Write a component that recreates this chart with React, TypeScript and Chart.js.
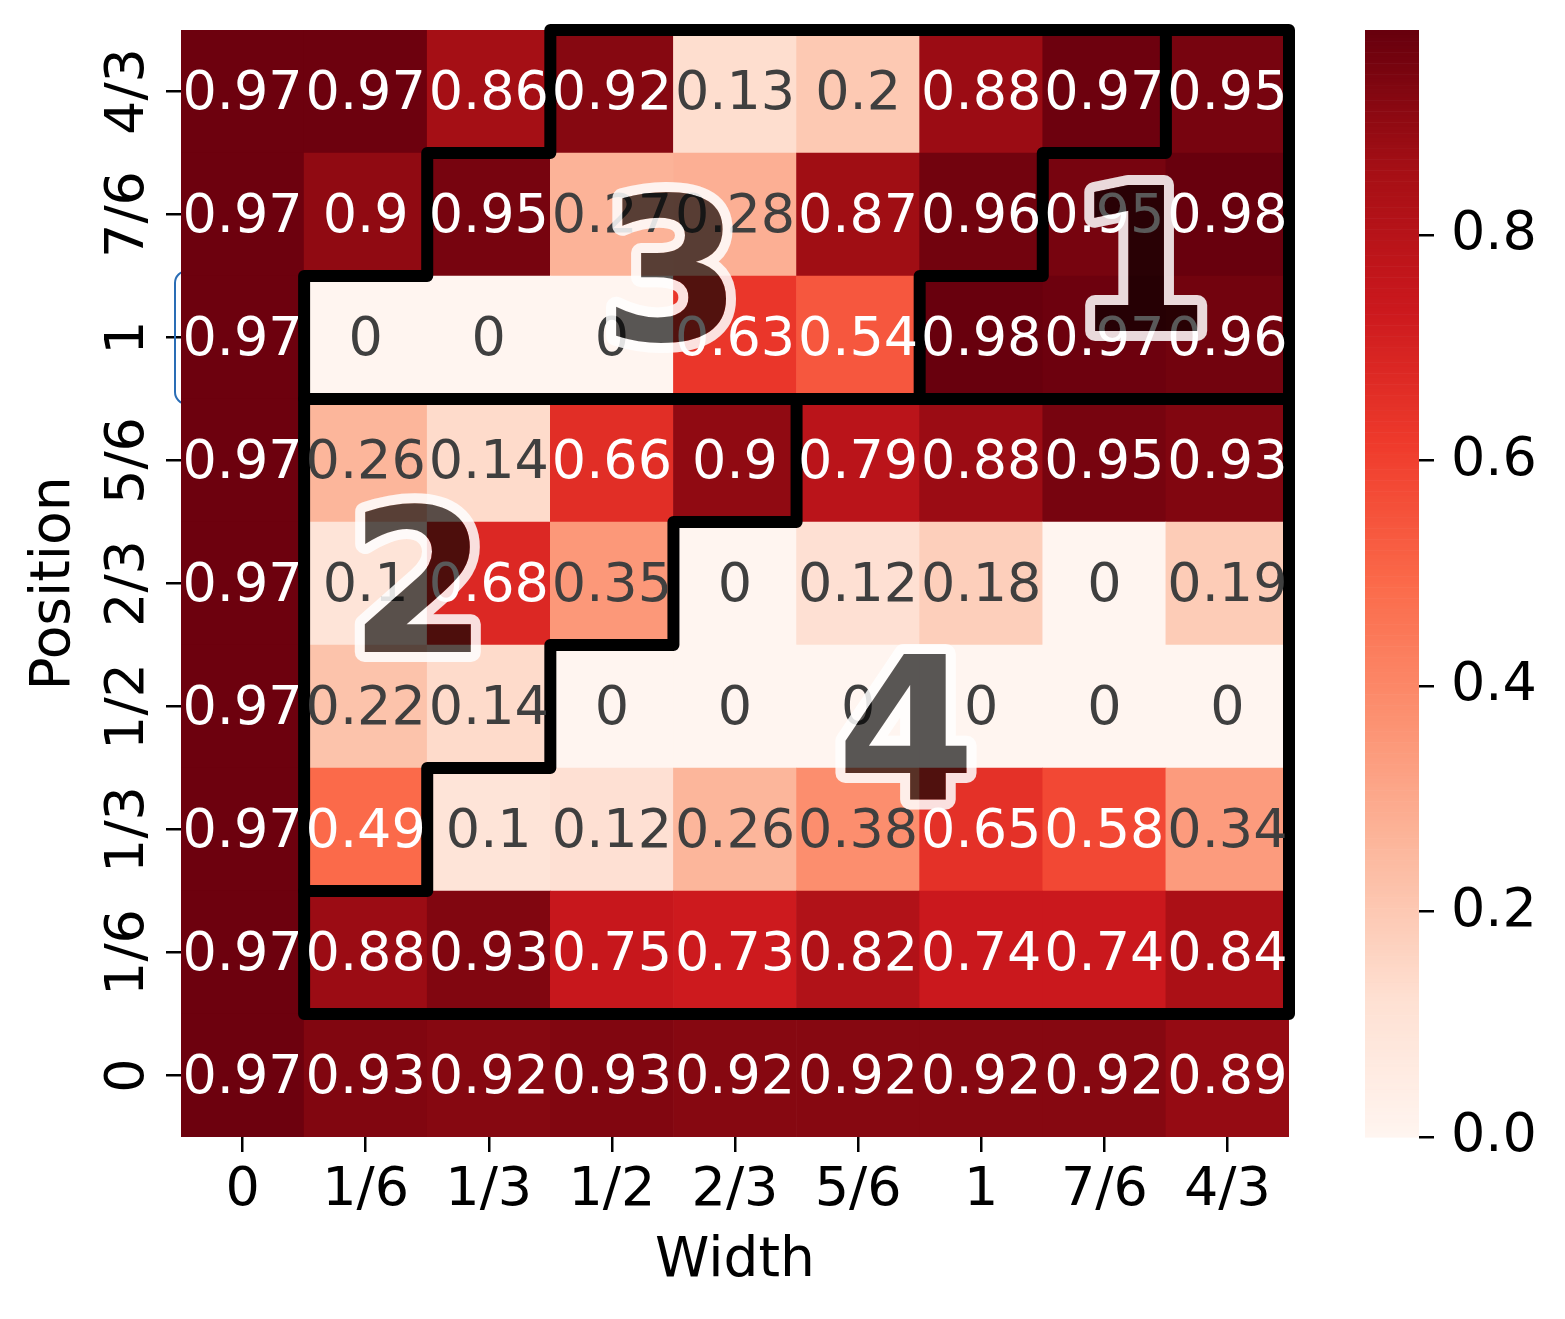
import React, { useEffect, useRef } from "react";
import { Chart, registerables } from "chart.js";
Chart.register(...registerables);

const FONT = "DejaVu Sans";
const FS = 54;
const TITLE_FS = 55;

// axis labels
const xLabels = ["0", "1/6", "1/3", "1/2", "2/3", "5/6", "1", "7/6", "4/3"];
const yLabels = ["0", "1/6", "1/3", "1/2", "2/3", "5/6", "1", "7/6", "4/3"]; // bottom -> top

// heatmap values, one array per Position row (bottom -> top), columns follow xLabels
const row0 = [0.97, 0.93, 0.92, 0.93, 0.92, 0.92, 0.92, 0.92, 0.89];
const row1_6 = [0.97, 0.88, 0.93, 0.75, 0.73, 0.82, 0.74, 0.74, 0.84];
const row1_3 = [0.97, 0.49, 0.1, 0.12, 0.26, 0.38, 0.65, 0.58, 0.34];
const row1_2 = [0.97, 0.22, 0.14, 0, 0, 0, 0, 0, 0];
const row2_3 = [0.97, 0.1, 0.68, 0.35, 0, 0.12, 0.18, 0, 0.19];
const row5_6 = [0.97, 0.26, 0.14, 0.66, 0.9, 0.79, 0.88, 0.95, 0.93];
const row1 = [0.97, 0, 0, 0, 0.63, 0.54, 0.98, 0.97, 0.96];
const row7_6 = [0.97, 0.9, 0.95, 0.27, 0.28, 0.87, 0.96, 0.95, 0.98];
const row4_3 = [0.97, 0.97, 0.86, 0.92, 0.13, 0.2, 0.88, 0.97, 0.95];
const rows = [row0, row1_6, row1_3, row1_2, row2_3, row5_6, row1, row7_6, row4_3];

const vMin = 0;
const vMax = 0.982;
const colorbarTicks = [0, 0.2, 0.4, 0.6, 0.8];

// region borders in cell-index coordinates (column, row)
const outerBorder = [[2.5, 8.5], [8.5, 8.5], [8.5, 0.5], [0.5, 0.5], [0.5, 6.5], [1.5, 6.5], [1.5, 7.5], [2.5, 7.5], [2.5, 8.5]];
const middleBorder = [[0.5, 5.5], [8.5, 5.5]];
const border1 = [[7.5, 8.5], [7.5, 7.5], [6.5, 7.5], [6.5, 6.5], [5.5, 6.5], [5.5, 5.5]];
const border24 = [[4.5, 5.5], [4.5, 4.5], [3.5, 4.5], [3.5, 3.5], [2.5, 3.5], [2.5, 2.5], [1.5, 2.5], [1.5, 1.5], [0.5, 1.5]];
const borders = [outerBorder, middleBorder, border1, border24];

// region labels
const regionLabels = ["1", "2", "3", "4"];
const regionLabelX = [7.3, 1.43, 3.49, 5.39];
const regionLabelY = [6.65, 4.04, 6.57, 2.83];

// matplotlib "Reds"
const REDS = [
  [255, 245, 240], [254, 224, 210], [252, 187, 161], [252, 146, 114], [251, 106, 74],
  [239, 59, 44], [203, 24, 29], [165, 15, 21], [103, 0, 13],
];
function cmap(v: number): number[] {
  let t = (v - vMin) / (vMax - vMin);
  t = Math.max(0, Math.min(1, t));
  const p = t * (REDS.length - 1);
  const i = Math.min(REDS.length - 2, Math.floor(p));
  const f = p - i;
  return REDS[i].map((c, k) => Math.round(c + (REDS[i + 1][k] - c) * f));
}
const css = (c: number[]) => `rgb(${c[0]},${c[1]},${c[2]})`;
function lum(c: number[]) {
  const l = c.map((x) => {
    const s = x / 255;
    return s <= 0.03928 ? s / 12.92 : Math.pow((s + 0.055) / 1.055, 2.4);
  });
  return 0.2126 * l[0] + 0.7152 * l[1] + 0.0722 * l[2];
}
const fmt = (v: number) => String(Number(v.toPrecision(2)));

const zeroPad = (s: any) => {
  s.paddingLeft = 0;
  s.paddingRight = 0;
  s.paddingTop = 0;
  s.paddingBottom = 0;
};

const heatPlugin = {
  id: "heatExtras",
  beforeDatasetsDraw(chart: any) {
    const { ctx, chartArea } = chart;
    const y = chart.scales.y;
    ctx.save();
    ctx.strokeStyle = "#2a6db5";
    ctx.lineWidth = 2;
    const top = y.getPixelForValue(6.5) - 5;
    const bot = y.getPixelForValue(5.5) + 5;
    ctx.beginPath();
    (ctx as any).roundRect(chartArea.left - 6, top, 40, bot - top, 12);
    ctx.stroke();
    ctx.restore();
  },
  afterDatasetsDraw(chart: any) {
    const { ctx } = chart;
    const xs = chart.scales.x;
    const ys = chart.scales.y;
    ctx.save();
    ctx.font = `${FS}px "${FONT}"`;
    ctx.textAlign = "center";
    ctx.textBaseline = "alphabetic";
    rows.forEach((vals, j) => {
      vals.forEach((v, i) => {
        const c = cmap(v);
        ctx.fillStyle = lum(c) > 0.408 ? "#3f3f3f" : "#ffffff";
        ctx.fillText(fmt(v), xs.getPixelForValue(i), ys.getPixelForValue(j) + 17);
      });
    });
    ctx.restore();
  },
  afterDraw(chart: any) {
    const { ctx } = chart;
    const xs = chart.scales.x;
    const ys = chart.scales.y;
    const cb = chart.scales.cb;
    // y tick labels (rotated)
    ctx.save();
    ctx.font = `${FS}px "${FONT}"`;
    ctx.fillStyle = "#000";
    ctx.textAlign = "center";
    ctx.textBaseline = "alphabetic";
    yLabels.forEach((lab, j) => {
      ctx.save();
      ctx.translate(ys.right - 38, ys.getPixelForValue(j));
      ctx.rotate(-Math.PI / 2);
      ctx.fillText(lab, 0, 0);
      ctx.restore();
    });
    ctx.restore();

    // colorbar
    ctx.save();
    const x1 = cb.left;
    const x0 = x1 - 54;
    const N = 300;
    for (let k = 0; k < N; k++) {
      const a = vMin + ((vMax - vMin) * k) / N;
      const b = vMin + ((vMax - vMin) * (k + 1)) / N;
      const pa = cb.getPixelForValue(a);
      const pb = cb.getPixelForValue(b);
      ctx.fillStyle = css(cmap((a + b) / 2));
      ctx.fillRect(x0, pb, x1 - x0, pa - pb + 0.6);
    }
    ctx.restore();

    // big region numbers
    const w = chart.width;
    const h = chart.height;
    const off = document.createElement("canvas");
    off.width = w;
    off.height = h;
    const o = off.getContext("2d") as CanvasRenderingContext2D;
    const bigFont = `bold 200px "${FONT}"`;
    o.font = bigFont;
    o.textAlign = "center";
    o.textBaseline = "alphabetic";
    o.lineJoin = "round";
    o.lineWidth = 20;
    o.strokeStyle = "#ffffff";
    const pos = regionLabels.map((_, k) => [
      xs.getPixelForValue(regionLabelX[k]),
      ys.getPixelForValue(regionLabelY[k]) + 73,
    ]);
    regionLabels.forEach((lab, k) => o.strokeText(lab, pos[k][0], pos[k][1]));
    o.globalCompositeOperation = "destination-out";
    o.fillStyle = "#000";
    regionLabels.forEach((lab, k) => o.fillText(lab, pos[k][0], pos[k][1]));
    ctx.save();
    ctx.globalAlpha = 0.85;
    ctx.drawImage(off, 0, 0);
    ctx.restore();
    ctx.save();
    ctx.font = bigFont;
    ctx.textAlign = "center";
    ctx.textBaseline = "alphabetic";
    ctx.fillStyle = "rgba(0,0,0,0.65)";
    regionLabels.forEach((lab, k) => ctx.fillText(lab, pos[k][0], pos[k][1]));
    ctx.restore();
  },
};

export default function App() {
  const ref = useRef<HTMLCanvasElement | null>(null);
  useEffect(() => {
    if (!ref.current) return;
    const tickGrid = {
      display: true,
      drawOnChartArea: false,
      drawTicks: true,
      offset: false,
      tickLength: 15,
      tickWidth: 2.5,
      tickColor: "#000",
      color: "#000",
      lineWidth: 2.5,
    };
    const datasets: any[] = [
      ...rows.map((vals, j) => ({
        type: "bar",
        label: yLabels[j],
        data: vals.map((_, i) => ({ x: i, y: [j - 0.5, j + 0.5] })),
        backgroundColor: vals.map((v) => css(cmap(v))),
        borderWidth: 0,
        barPercentage: 1,
        categoryPercentage: 1,
        grouped: false,
        order: 1,
      })),
      ...borders.map((pts) => ({
        type: "line",
        data: pts.map(([x, y]) => ({ x, y })),
        borderColor: "#000",
        borderWidth: 12,
        borderJoinStyle: "round",
        borderCapStyle: "round",
        pointRadius: 0,
        fill: false,
        tension: 0,
        clip: false,
        order: 0,
      })),
    ];
    const chart = new Chart(ref.current, {
      type: "bar",
      data: { datasets },
      plugins: [heatPlugin],
      options: {
        responsive: false,
        animation: false,
        devicePixelRatio: 1,
        layout: { padding: { top: 22, left: 0, right: 0, bottom: 0 } },
        plugins: { legend: { display: false }, tooltip: { enabled: false } },
        scales: {
          x: {
            type: "linear",
            position: "bottom",
            offset: false,
            min: -0.5,
            max: 8.5,
            afterBuildTicks: (s: any) => {
              s.ticks = xLabels.map((_, i) => ({ value: i }));
            },
            afterFit: (s: any) => {
              s.height = 174;
              zeroPad(s);
            },
            ticks: {
              callback: (v: any) => xLabels[v],
              font: { family: FONT, size: FS },
              color: "#000",
              padding: 7,
              autoSkip: false,
              maxRotation: 0,
              minRotation: 0,
            },
            grid: tickGrid,
            border: { display: false },
            title: {
              display: true,
              text: "Width",
              font: { family: FONT, size: TITLE_FS },
              color: "#000",
              padding: { top: 0, bottom: 16 },
            },
          },
          y: {
            type: "linear",
            position: "left",
            offset: false,
            min: -0.5,
            max: 8.5,
            afterBuildTicks: (s: any) => {
              s.ticks = yLabels.map((_, i) => ({ value: i }));
            },
            afterFit: (s: any) => {
              s.width = 173;
              zeroPad(s);
            },
            ticks: { display: false },
            grid: tickGrid,
            border: { display: false },
            title: {
              display: true,
              text: "Position",
              font: { family: FONT, size: TITLE_FS },
              color: "#000",
              padding: { top: 14, bottom: 0 },
            },
          },
          gap: {
            type: "linear",
            position: "right",
            weight: 1,
            display: true,
            ticks: { display: false },
            grid: { display: false },
            border: { display: false },
            afterFit: (s: any) => {
              s.width = 130;
              zeroPad(s);
            },
          },
          cb: {
            type: "linear",
            position: "right",
            weight: 2,
            min: vMin,
            max: vMax,
            afterBuildTicks: (s: any) => {
              s.ticks = colorbarTicks.map((v) => ({ value: v }));
            },
            afterFit: (s: any) => {
              s.width = 138;
              zeroPad(s);
            },
            ticks: {
              callback: (v: any) => Number(v).toFixed(1),
              font: { family: FONT, size: FS },
              color: "#000",
              padding: 17,
            },
            grid: tickGrid,
            border: { display: false },
          },
        },
      } as any,
    });
    return () => chart.destroy();
  }, []);
  return (
    <div style={{ width: 1549, height: 1303 }}>
      <canvas ref={ref} width={1549} height={1303} style={{ display: "block" }} />
    </div>
  );
}
